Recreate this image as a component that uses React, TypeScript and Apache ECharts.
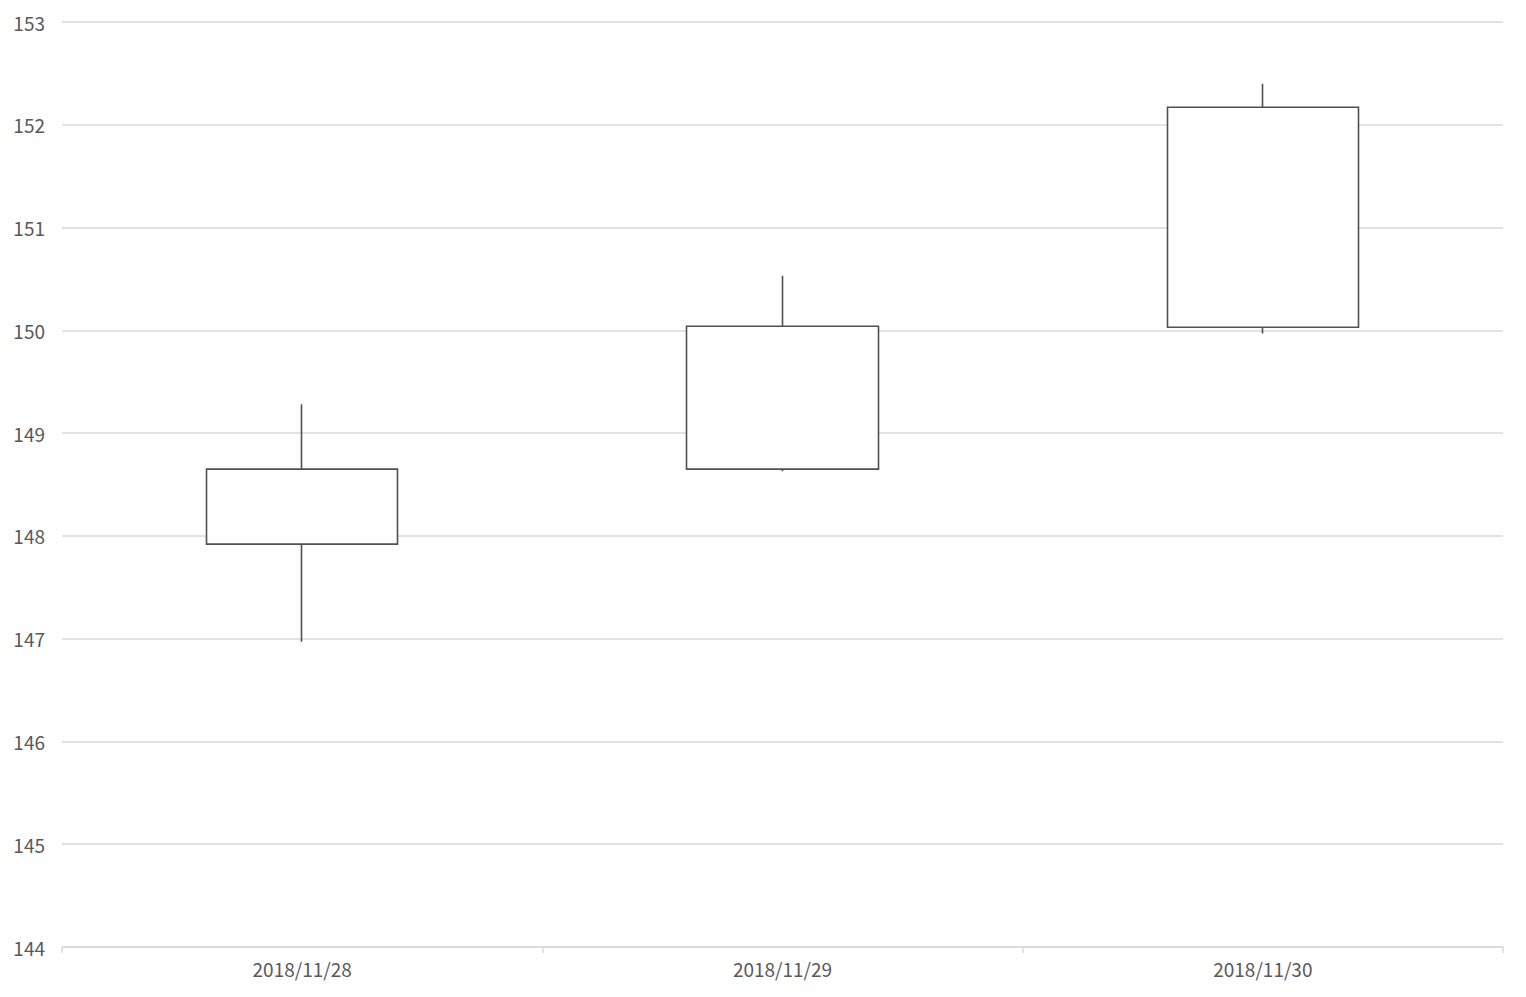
import React, { useEffect, useRef } from "react";
import * as echarts from "echarts";

const categories = ["2018/11/28", "2018/11/29", "2018/11/30"];
// [open, close, low, high]
const ohlc = [
  [147.92, 148.65, 146.97, 149.28],
  [148.65, 150.04, 148.63, 150.53],
  [150.03, 152.17, 149.97, 152.4],
];
const yMin = 144;
const yMax = 153;
const yStep = 1;

export default function App() {
  const ref = useRef<HTMLDivElement>(null);
  useEffect(() => {
    document.body.style.margin = "0";
    const chart = echarts.init(ref.current!, null, { renderer: "svg" });
    const font = '"Noto Sans CJK JP", "Noto Sans", sans-serif';
    chart.setOption({
      animation: false,
      backgroundColor: "#ffffff",
      grid: { left: 62, right: 23, top: 22, bottom: 50 },
      xAxis: {
        type: "category",
        data: categories,
        boundaryGap: true,
        axisLine: { lineStyle: { color: "#d9d9d9", width: 1.5 } },
        axisTick: { show: true, length: 6, lineStyle: { color: "#d9d9d9", width: 1.5 } },
        axisLabel: { color: "#595959", fontSize: 19, fontFamily: font, margin: 12 },
        splitLine: { show: false },
      },
      yAxis: {
        type: "value",
        min: yMin,
        max: yMax,
        interval: yStep,
        axisLine: { show: false },
        axisTick: { show: false },
        axisLabel: { color: "#595959", fontSize: 19, fontFamily: font, margin: 17 },
        splitLine: { lineStyle: { color: "#d9d9d9", width: 1.5 } },
      },
      series: [
        {
          type: "candlestick",
          data: ohlc,
          barWidth: "40%",
          itemStyle: {
            color: "#ffffff",
            color0: "#000000",
            borderColor: "#505050",
            borderColor0: "#505050",
            borderWidth: 1.6,
          },
        },
      ],
    });
    return () => chart.dispose();
  }, []);
  return <div ref={ref} style={{ width: 1526, height: 997 }} />;
}
